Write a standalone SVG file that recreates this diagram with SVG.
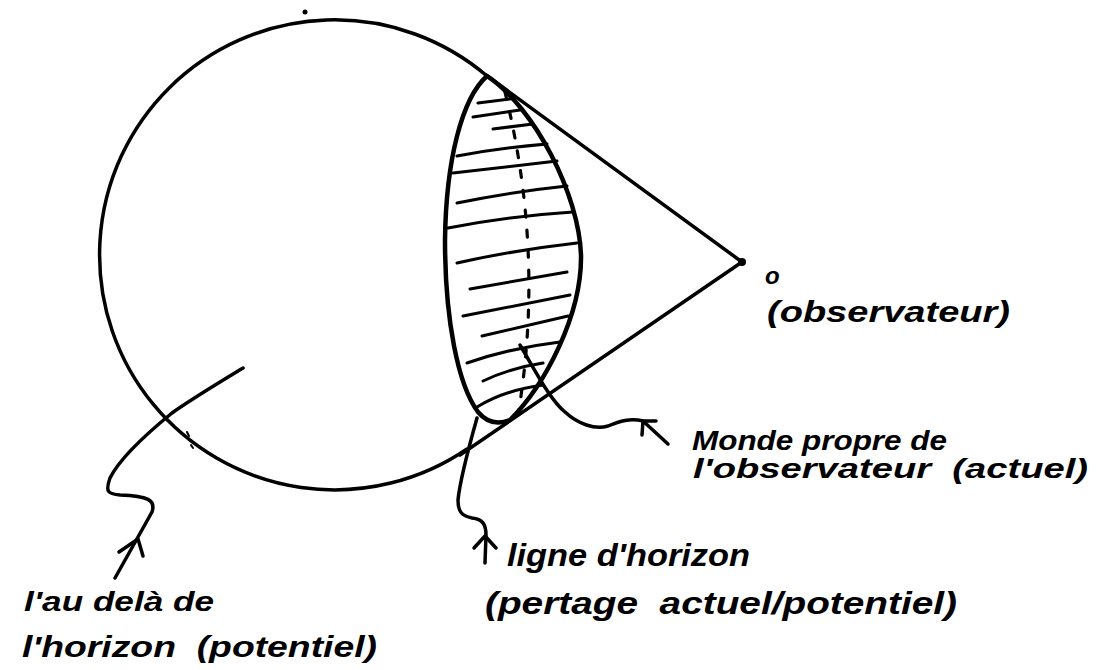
<svg xmlns="http://www.w3.org/2000/svg" width="1096" height="670" viewBox="0 0 1096 670">
<style>
.ink{fill:none;stroke:#000;stroke-linecap:round;stroke-linejoin:round}
.thick{stroke-width:3.5}
.lens{stroke-width:4.5}
.hatch{stroke-width:3}
.dash{stroke-width:3.2;stroke-dasharray:7 13}
.lbl{font-family:"Liberation Sans","DejaVu Sans",sans-serif;font-style:italic;font-weight:bold;fill:#000}
</style>
<rect width="1096" height="670" fill="#fff"/>
<g id="sphere">
<path class="ink thick" d="M487,76 A235,235 0 1 0 467,449"/>
<circle cx="305" cy="12" r="2.5" fill="#000"/>
<path class="ink" stroke-width="2" d="M187,432 l2,4 M191,445 l2,3"/>
</g>
<g id="monde-propre">
<path class="ink lens" d="M487,76 C462,98 446,160 445,240 C445,320 458,385 478,412 C488,424 500,424 510,420 C545,385 582,315 581,255 C579,195 535,108 487,76 Z"/>
<g class="ink hatch">
<path d="M478,103 L510,99"/>
<path d="M473,117 L520,110"/>
<path d="M493,129 L533,124"/>
<path d="M457,156 Q500,148 547,144"/>
<path d="M453,173 L557,161"/>
<path d="M457,203 Q510,192 567,186"/>
<path d="M448,228 Q510,216 573,212"/>
<path d="M457,263 Q515,250 577,243"/>
<path d="M470,289 L567,272"/>
<path d="M463,316 L570,295"/>
<path d="M482,336 L568,316"/>
<path d="M467,363 Q510,348 560,342"/>
<path d="M483,381 Q510,368 543,363"/>
<path d="M477,407 Q505,390 543,385"/>
</g>
<path class="ink dash" d="M505,92 Q545,255 518,415"/>
</g>
<g id="observateur">
<circle cx="742" cy="262" r="4" fill="#000"/>
<text class="lbl" x="765" y="284" font-size="24">o</text>
<text class="lbl" x="767" y="322" font-size="30" textLength="243" lengthAdjust="spacingAndGlyphs">(observateur)</text>
</g>
<g id="connectors">
<path class="ink thick" d="M742,262 L486,75"/>
<path class="ink thick" d="M742,262 L460,455"/>
<path class="ink thick" d="M520,345 C535,370 550,400 565,412 C578,424 595,430 608,426 C620,421 630,418 643,421 L668,444"/>
<path class="ink thick" d="M656,421 L643,421 L642,435"/>
<path class="ink thick" d="M477,418 C468,450 460,480 458,500 C458,512 462,516 472,518 C483,519 486,525 486,535 L485,563"/>
<path class="ink thick" d="M474,548 L485,536 L496,548"/>
<path class="ink thick" d="M243,368 C215,385 190,400 172,413 C145,435 120,458 110,478 C105,492 108,494 120,495 C148,496 156,500 152,512 L115,578"/>
<path class="ink thick" d="M119,552 L138,539 L143,556"/>
</g>
<g id="label-monde">
<text class="lbl" x="692" y="450" font-size="28" textLength="255" lengthAdjust="spacingAndGlyphs">Monde propre de</text>
<text class="lbl" x="693" y="478" font-size="28" textLength="395" lengthAdjust="spacingAndGlyphs" xml:space="preserve">l'observateur  (actuel)</text>
</g>
<g id="label-ligne">
<text class="lbl" x="507" y="566" font-size="32" textLength="243" lengthAdjust="spacingAndGlyphs">ligne d'horizon</text>
<text class="lbl" x="485" y="614" font-size="32" textLength="472" lengthAdjust="spacingAndGlyphs" xml:space="preserve">(pertage  actuel/potentiel)</text>
</g>
<g id="label-audela">
<text class="lbl" x="24" y="611" font-size="28" textLength="190" lengthAdjust="spacingAndGlyphs">l'au delà de</text>
<text class="lbl" x="22" y="657" font-size="30" textLength="355" lengthAdjust="spacingAndGlyphs" xml:space="preserve">l'horizon  (potentiel)</text>
</g>
</svg>
